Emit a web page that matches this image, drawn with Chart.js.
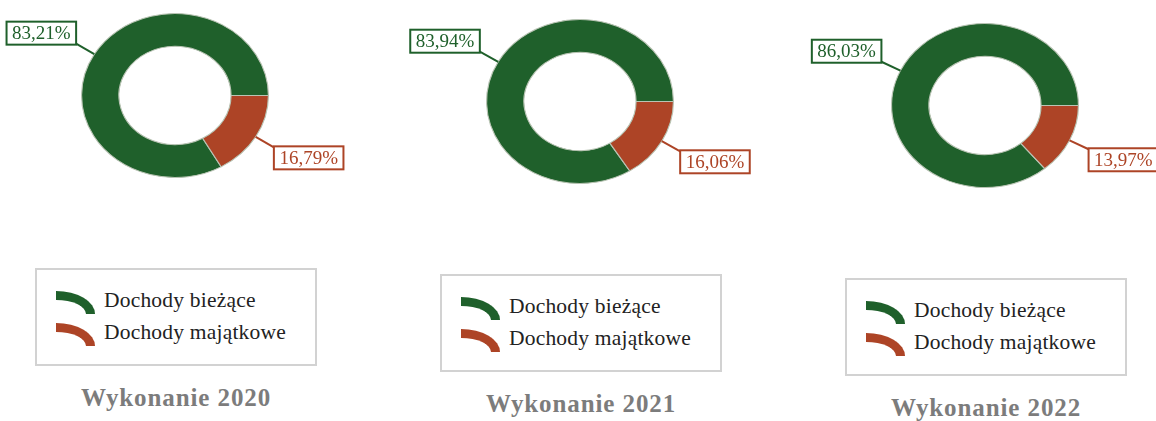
<!DOCTYPE html>
<html>
<head>
<meta charset="utf-8">
<script src="https://cdn.jsdelivr.net/npm/chart.js@4/dist/chart.umd.min.js"></script>
<style>
  html, body { margin: 0; padding: 0; background: #fff; }
  body { width: 1156px; height: 421px; overflow: hidden; position: relative; font-family: "Liberation Serif", serif; }
  .panel { position: absolute; top: 0; width: 405px; height: 421px; }
  .panel canvas { position: absolute; left: 0; top: 0; }
  .legend { position: absolute; left: 35px; top: 268px; width: 278px; height: 94px; border: 2px solid #d2d2d2; }
  .item { position: absolute; left: 19px; height: 26px; font-size: 21.5px; color: #222; white-space: nowrap; }
  .item .icon { position: absolute; left: 0; top: 1px; width: 30px; height: 14px; border-top: 9px solid; border-right: 9px solid; border-top-right-radius: 39px 23px; }
  .item span { position: absolute; left: 48px; top: -2px; letter-spacing: 0.2px; }
  .title { position: absolute; left: 0; width: 352px; top: 384px; text-align: center; font-weight: bold; font-size: 25px; letter-spacing: 0.9px; color: #7c7c7c; }
</style>
</head>
<body>
<script>
// dane
var years = ['2020', '2021', '2022'];
var categories = ['Dochody bieżące', 'Dochody majątkowe'];
var biezace = [83.21, 83.94, 86.03];
var majatkowe = [16.79, 16.06, 13.97];
var colors = ['#1f602b', '#ad4426'];

// panel placement
var panelX = [0, 405, 810];
var panelY = [0, 6, 10];
var SX = 94 / 82.5; // donut is a bit wider than tall

function fmt(v) {
	return v.toFixed(2).replace('.', ',') + '%';
}

var ellipsePlugin = {
	id: 'ellipse',
	beforeDatasetsDraw: function(chart) {
		var arc = chart.getDatasetMeta(0).data[0];
		var ctx = chart.ctx;
		ctx.save();
		ctx.translate(arc.x, arc.y);
		ctx.scale(SX, 1);
		ctx.translate(-arc.x, -arc.y);
	},
	afterDatasetsDraw: function(chart) {
		chart.ctx.restore();
	}
};

var calloutPlugin = {
	id: 'callout',
	afterDraw: function(chart) {
		var ctx = chart.ctx;
		var ds = chart.data.datasets[0];
		chart.getDatasetMeta(0).data.forEach(function(arc, i) {
			var p = arc.getProps(['x', 'y', 'startAngle', 'endAngle', 'outerRadius'], true);
			var mid = (p.startAngle + p.endAngle) / 2;
			var c = Math.cos(mid), s = Math.sin(mid);
			var ex = p.x + SX * p.outerRadius * c;
			var ey = p.y + p.outerRadius * s;
			var lx = ex + 21 * c;
			var ly = ey + 21 * s;
			var txt = fmt(ds.data[i]);
			ctx.save();
			ctx.font = '19px "Liberation Serif"';
			var w = ctx.measureText(txt).width + 11;
			var h = 23;
			var bx = c < 0 ? lx - w : lx;
			var by = s < 0 ? ly + 1 - h : ly - 1;
			ctx.strokeStyle = ds.backgroundColor[i];
			ctx.lineWidth = 2;
			ctx.beginPath();
			ctx.moveTo(ex, ey);
			ctx.lineTo(lx, ly);
			ctx.stroke();
			ctx.fillStyle = '#fff';
			ctx.fillRect(bx, by, w, h);
			ctx.strokeRect(bx, by, w, h);
			ctx.fillStyle = ds.backgroundColor[i];
			ctx.textAlign = 'center';
			ctx.textBaseline = 'middle';
			ctx.fillText(txt, bx + w / 2, by + h / 2 + 1);
			ctx.restore();
		});
	}
};

years.forEach(function(year, k) {
	var panel = document.createElement('div');
	panel.className = 'panel';
	panel.style.left = panelX[k] + 'px';
	panel.style.top = panelY[k] + 'px';
	document.body.appendChild(panel);

	var cv = document.createElement('canvas');
	cv.width = 405;
	cv.height = 220;
	cv.style.width = '405px';
	cv.style.height = '220px';
	panel.appendChild(cv);

	var legend = document.createElement('div');
	legend.className = 'legend';
	categories.forEach(function(cat, i) {
		var it = document.createElement('div');
		it.className = 'item';
		it.style.top = (20 + i * 32) + 'px';
		var ic = document.createElement('div');
		ic.className = 'icon';
		ic.style.borderColor = colors[i];
		var sp = document.createElement('span');
		sp.textContent = cat;
		it.appendChild(ic);
		it.appendChild(sp);
		legend.appendChild(it);
	});
	panel.appendChild(legend);

	var title = document.createElement('div');
	title.className = 'title';
	title.textContent = 'Wykonanie ' + year;
	panel.appendChild(title);

	new Chart(cv, {
		type: 'doughnut',
		data: {
			labels: categories,
			datasets: [{
				data: [biezace[k], majatkowe[k]],
				backgroundColor: colors,
				borderColor: '#b9c4b4',
				borderWidth: 1
			}]
		},
		options: {
			responsive: false,
			animation: false,
			cutout: '60%',
			rotation: 90 + majatkowe[k] * 3.6,
			layout: { padding: { left: 92.5, right: 147.5, top: 12.5, bottom: 41.5 } },
			plugins: {
				legend: { display: false },
				tooltip: { enabled: false }
			}
		},
		plugins: [ellipsePlugin, calloutPlugin]
	});
});
</script>
</body>
</html>
